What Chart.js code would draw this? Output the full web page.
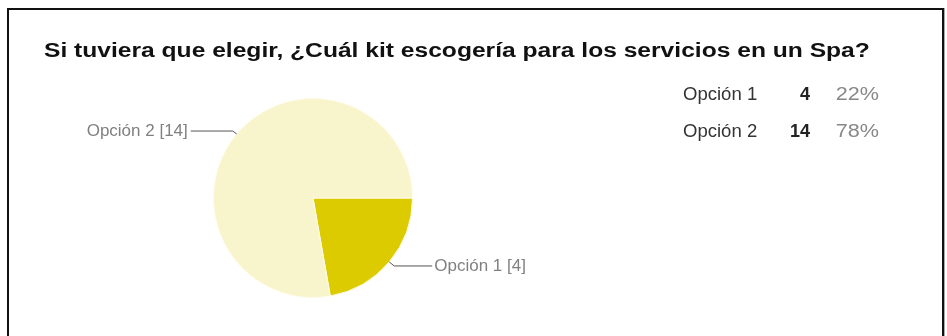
<!DOCTYPE html>
<html>
<head>
<meta charset="utf-8">
<script src="https://cdn.jsdelivr.net/npm/chart.js@4"></script>
<style>
  html, body { margin: 0; padding: 0; background: #fff; }
  body { width: 947px; height: 336px; position: relative; overflow: hidden; font-family: "Liberation Sans", Arial, sans-serif; }
  #frame { position: absolute; left: 7px; top: 8px; width: 937px; height: 340px; border: 2px solid #111; box-sizing: border-box; box-shadow: 1px 0 0 #aaa; }
  #chart { position: absolute; left: 0; top: 0; }
  .txt { position: absolute; white-space: nowrap; line-height: 1; }
  #title { left: 44px; top: 40px; font-size: 20px; font-weight: bold; color: #111; transform: scaleX(1.23); transform-origin: left center; }
  .name { color: #333; font-size: 18px; transform: scaleX(1.03); transform-origin: left center; }
  .count { color: #222; font-size: 18px; font-weight: bold; text-align: right; }
  .pct { color: #888; font-size: 18px; transform: scaleX(1.2); transform-origin: right center; text-align: right; }
</style>
</head>
<body>
<div id="frame"></div>
<canvas id="chart" width="947" height="336"></canvas>
<div id="title" class="txt">Si tuviera que elegir, ¿Cuál kit escogería para los servicios en un Spa?</div>
<div id="summary"></div>
<script>
const labels = ['Opción 1', 'Opción 2'];
const counts = [4, 14];
const colors = ['#dccb00', '#f8f4cc'];

const total = counts.reduce((a, b) => a + b, 0);
const pct = (v) => `${Math.round((v / total) * 100)}%`;

// summary rows on the right: name, count, share
document.getElementById('summary').innerHTML = labels.map((label, i) => {
  const top = 85 + i * 37;
  return `
  <div class="txt name" style="left:683px;top:${top}px">${label}</div>
  <div class="txt count" style="right:${947 - 810}px;top:${top}px">${counts[i]}</div>
  <div class="txt pct" style="right:${947 - 879}px;top:${top}px">${pct(counts[i])}</div>`;
}).join('');

// callout lines: short bend off the slice middle, then a horizontal run to the label
const callouts = {
  id: 'callouts',
  afterDatasetsDraw(chart) {
    const { ctx } = chart;
    const arcs = chart.getDatasetMeta(0).data;
    ctx.save();
    ctx.font = '17px "Liberation Sans", Arial, sans-serif';
    ctx.textBaseline = 'middle';
    ctx.strokeStyle = '#555';
    ctx.lineWidth = 1;
    arcs.forEach((arc, i) => {
      const { x, y, outerRadius, startAngle, endAngle } = arc.getProps(['x', 'y', 'outerRadius', 'startAngle', 'endAngle'], true);
      const mid = (startAngle + endAngle) / 2;
      const ax = x + Math.cos(mid) * outerRadius;
      const ay = y + Math.sin(mid) * outerRadius;
      const right = Math.cos(mid) >= 0;
      const bx = ax + (right ? 5 : -4);
      const by = ay + (Math.sin(mid) >= 0 ? 4 : -3);
      const ex = bx + (right ? 38 : -42);
      ctx.beginPath();
      ctx.moveTo(ax, ay);
      ctx.lineTo(bx, by);
      ctx.lineTo(ex, by);
      ctx.stroke();
      ctx.fillStyle = '#808080';
      ctx.textAlign = right ? 'left' : 'right';
      ctx.fillText(`${labels[i]} [${counts[i]}]`, ex + (right ? 2 : -3), by);
    });
    ctx.restore();
  }
};

new Chart(document.getElementById('chart'), {
  type: 'pie',
  data: {
    labels,
    datasets: [{
      data: counts,
      backgroundColor: colors,
      borderColor: '#fffbe8',
      borderWidth: 1,
    }],
  },
  options: {
    responsive: false,
    animation: false,
    rotation: 90,
    layout: { padding: { left: 213, right: 534, top: 98, bottom: 38 } },
    plugins: { legend: { display: false }, tooltip: { enabled: false }, title: { display: false } },
  },
  plugins: [callouts],
});
</script>
</body>
</html>
